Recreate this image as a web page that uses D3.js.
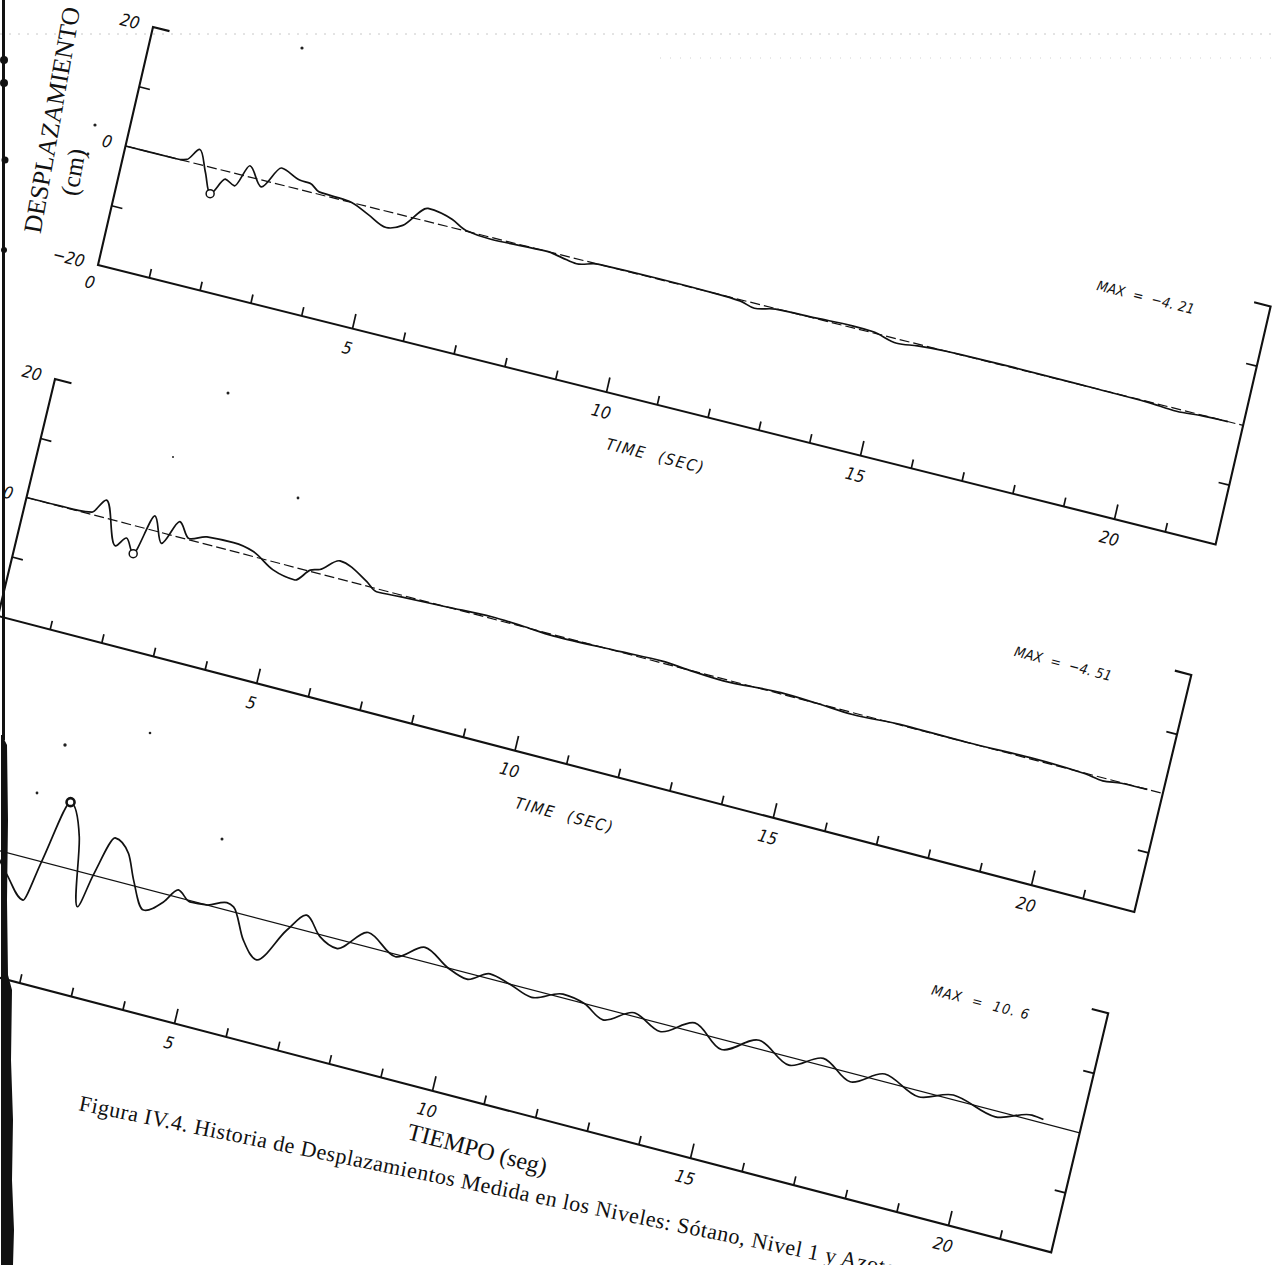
<!DOCTYPE html>
<html><head><meta charset="utf-8">
<script src="https://cdn.jsdelivr.net/npm/d3@7"></script>
<style>
html,body{margin:0;padding:0;background:#fff;}
svg{display:block;}
</style></head><body>
<svg id="chart" width="1277" height="1265"></svg>
<script>
// ---------------- data ----------------
const tickMajor = [5, 10, 15, 20];
const tickMinor = [1,2,3,4,6,7,8,9,11,12,13,14,16,17,18,19,21];
const yLabelValues = [20, 0, -20];
const yLabelTexts = ["20", "0", "\u221220"];
const maxLabels = ["MAX  =  \u22124. 21", "MAX  =  \u22124. 51", "MAX  =  10. 6"];
const axisTitles = ["TIME  (SEC)", "TIME  (SEC)", "TIEMPO  (seg)"];
const yTitle = "DESPLAZAMIENTO";
const yUnit = "(cm)";
const caption = "Figura IV.4. Historia de Desplazamientos Medida en los Niveles: S\u00f3tano, Nivel 1 y Azotea";

// Sotano
const sotanoT = [0, 1.0, 1.2, 1.4, 1.6, 1.78, 2.0, 2.2, 2.4, 2.7, 3.0, 3.4, 3.6, 3.8, 4.4, 4.8, 5.2, 5.5, 5.9, 6.4, 6.7, 7.2, 8.3, 8.6, 8.9, 9.3, 10.5, 11.6, 12.1, 12.4, 12.8, 13.6, 14.3, 14.7, 15.2, 15.6, 16.2, 17.5, 19.0, 20.1, 20.7, 21.2, 21.7];
const sotanoV = [0, 0, 0.3, 2.4, -1.0, -4.21, -1.3, -2.0, 1.8, -1.1, 2.7, 1.5, 1.4, 0.4, 0.1, -1.2, -2.6, -1.6, 2.1, 1.3, 0.1, -0.3, 0, -0.4, -0.8, 0, 0.1, 0, -0.2, -0.8, -0.1, 0.1, 0.3, 0.2, -0.7, -0.3, 0, 0.1, 0, -0.1, -0.4, -0.1, 0];
// Nivel 1
const nivel1T = [0, 1.0, 1.26, 1.47, 1.83, 2.0, 2.19, 2.42, 2.66, 2.9, 3.14, 3.46, 3.97, 4.37, 4.81, 5.25, 5.49, 5.66, 5.99, 6.57, 6.79, 7.24, 8.14, 9.0, 9.6, 10.2, 11.5, 12.3, 12.8, 13.5, 14.6, 15.3, 16.0, 17.0, 18.2, 19.5, 20.5, 20.85, 21.2, 21.7];
const nivel1V = [0, 0.1, 0.4, 2.9, -4.0, -2.3, -4.51, 2.4, -1.7, 2.5, 0.2, 1.2, 1.4, 0.8, -1.3, -2.0, 0.2, 0.7, 2.9, 0.7, -0.5, -0.3, 0, 0.3, 0.1, -0.2, 0.1, 0.3, 0, -0.3, 0.2, 0, -0.3, 0.1, 0, 0.2, -0.1, -0.5, -0.1, 0];
// Azotea
const azoteaT = [0, 0.5, 0.9, 1.29, 1.71, 1.88, 2.15, 2.46, 2.73, 2.88, 3.12, 3.43, 3.64, 3.95, 4.28, 4.50, 4.76, 5.08, 5.44, 5.58, 5.90, 6.23, 6.65, 6.95, 7.28, 7.64, 8.15, 8.75, 9.25, 9.76, 10.15, 10.55, 10.95, 11.41, 11.97, 12.4, 12.81, 13.35, 13.9, 14.5, 15.1, 15.75, 16.4, 17.0, 17.59, 18.19, 18.9, 19.53, 20.39, 21.05, 21.28];
const azoteaV = [0, 0.8, 0.2, -3.3, -6.8, 0, 10.6, 5.5, -5.6, 0, 6.8, 4.9, 0.9, -3.4, -1.3, 1.2, -0.2, 0, 1.2, 0.8, -4.0, -6.6, -0.7, 2.5, -0.3, -1.5, 2.3, -0.4, 2.3, 0, -1.0, 0.8, 0, -1.2, 0.6, 0, -1.8, 0.6, -1.3, 1.5, -1.6, 1.4, -1.3, 1.2, -1.4, 1.25, -0.95, 0.76, -0.95, 0.83, 0.6];

// ---------------- layout (geometry of the skewed scan) ----------------
const W = 1100, H = 400;
const panels = [
  {BL:[98,265],  xv:[50.8,12.7],  yv:[1.375,-5.95], T:sotanoT, V:sotanoV, dash:"10,4", titleT:11.2, titleOff:50, serif:false, circleW:1.5},
  {BL:[-2,616],  xv:[51.65,13.45], yv:[1.425,-5.925], T:nivel1T, V:nivel1V, dash:"10,4", titleT:11.2, titleOff:50, serif:false, circleW:1.5},
  {BL:[-84,956], xv:[51.6,13.47], yv:[1.425,-5.975], T:azoteaT, V:azoteaV, dash:null, titleT:11.1, titleOff:45, serif:true, circleW:2.6}
];
const INK = "#111";
const plotFont = "'DejaVu Sans Condensed','Liberation Sans Narrow','DejaVu Sans',sans-serif";
const serifFont = "'Liberation Serif','DejaVu Serif',serif";

const svg = d3.select("#chart");
svg.append("rect").attr("width",1277).attr("height",1265).attr("fill","#fff");

// faint scan artifacts at the top
svg.append("line").attr("x1",0).attr("x2",1277).attr("y1",34).attr("y2",34)
  .attr("stroke","#c8c8c8").attr("stroke-width",1).attr("stroke-dasharray","2,7");
svg.append("line").attr("x1",660).attr("x2",1277).attr("y1",58).attr("y2",58)
  .attr("stroke","#d0d0d0").attr("stroke-width",1).attr("stroke-dasharray","1,9");
// isolated specks of the scan
[[302,48,1.6],[95,125,1.6],[88,154,1.4],[228,393,1.5],[298,498,1.4],[173,457,1],[65,745,1.7],[37,793,1.4],[222,839,1.5],[150,733,1.3]]
  .forEach(d => svg.append("circle").attr("cx",d[0]).attr("cy",d[1]).attr("r",d[2]).attr("fill","#222"));

panels.forEach((p, i) => {
  const x = d3.scaleLinear().domain([0,22]).range([0,W]);
  const y = d3.scaleLinear().domain([-20,20]).range([H,0]);
  const ax = [p.xv[0]*22/W, p.xv[1]*22/W];
  const by = [-p.yv[0]*40/H, -p.yv[1]*40/H];
  const TL = [p.BL[0]+40*p.yv[0], p.BL[1]+40*p.yv[1]];
  const sx = Math.hypot(ax[0],ax[1]), sy = Math.hypot(by[0],by[1]);
  const proj = (t,v) => { const lx = x(t), ly = y(v); return [TL[0]+lx*ax[0]+ly*by[0], TL[1]+lx*ax[1]+ly*by[1]]; };
  const theta = Math.atan2(p.xv[1], p.xv[0]);
  const deg = theta*180/Math.PI;
  const u = [Math.cos(theta), Math.sin(theta)];
  const dn = [-Math.sin(theta), Math.cos(theta)];

  const g = svg.append("g")
    .attr("transform", `matrix(${ax[0]},${ax[1]},${by[0]},${by[1]},${TL[0]},${TL[1]})`);

  // zero reference line
  g.append("path").attr("d", `M${x(0)},${y(0)}H${x(22)}`)
    .attr("fill","none").attr("stroke",INK).attr("stroke-width",1.2)
    .attr("stroke-dasharray", p.dash).attr("vector-effect","non-scaling-stroke");

  // signal
  const line = d3.line().x(d=>x(d[0])).y(d=>y(d[1])).curve(d3.curveMonotoneX);
  g.append("path").datum(d3.zip(p.T,p.V)).attr("d", line)
    .attr("fill","none").attr("stroke",INK).attr("stroke-width",1.7)
    .attr("stroke-linejoin","round").attr("vector-effect","non-scaling-stroke");

  // frame (left, bottom, right axes plus corner stubs)
  const stub = 17/sx;
  g.append("path").attr("d", `M${x(0)+stub},${y(20)}H${x(0)}V${y(-20)}H${x(22)}V${y(20)}H${x(22)-stub}`)
    .attr("fill","none").attr("stroke",INK).attr("stroke-width",2.1)
    .attr("stroke-linejoin","miter").attr("vector-effect","non-scaling-stroke");

  const styleAxis = sel => {
    sel.select(".domain").remove();
    sel.selectAll("line").attr("stroke",INK).attr("stroke-width",1.7).attr("vector-effect","non-scaling-stroke");
    sel.selectAll("text").remove();
  };
  g.append("g").attr("transform",`translate(0,${H})`)
    .call(d3.axisBottom(x).tickValues(tickMinor).tickSize(-9/sy).tickSizeOuter(0)).call(styleAxis);
  g.append("g").attr("transform",`translate(0,${H})`)
    .call(d3.axisBottom(x).tickValues(tickMajor).tickSize(-15/sy).tickSizeOuter(0)).call(styleAxis);
  g.append("g").call(d3.axisLeft(y).tickValues([-10,10]).tickSize(-11/sx).tickSizeOuter(0)).call(styleAxis);
  g.append("g").attr("transform",`translate(${W},0)`)
    .call(d3.axisRight(y).tickValues([-10,10]).tickSize(-11/sx).tickSizeOuter(0)).call(styleAxis);

  // peak marker
  const k = d3.maxIndex(p.V, v => Math.abs(v));
  const cp = proj(p.T[k], p.V[k]);
  svg.append("circle").attr("cx",cp[0]).attr("cy",cp[1]).attr("r",4)
    .attr("fill","#fff").attr("stroke",INK).attr("stroke-width",p.circleW);

  const txt = svg.append("g").attr("fill",INK);
  // x tick labels (only those that fall on the page)
  [0].concat(tickMajor).forEach(t => {
    const b = proj(t,-20);
    const off = t === 0 ? [-8,17] : [dn[0]*20, dn[1]*20];
    const pos = [b[0]+off[0], b[1]+off[1]];
    if (pos[0] < 6) return;
    txt.append("text").attr("transform",`translate(${pos[0]},${pos[1]}) rotate(${deg})`)
      .attr("text-anchor","middle").attr("dominant-baseline","central")
      .attr("font-family",plotFont).attr("font-style","italic").attr("font-size",17).text(String(t));
  });
  // y tick labels
  yLabelValues.forEach((v,j) => {
    const b = proj(0,v);
    const pos = [b[0]-14*u[0], b[1]-14*u[1]];
    if (pos[0] < 6) return;
    txt.append("text").attr("transform",`translate(${pos[0]},${pos[1]}) rotate(${deg})`)
      .attr("text-anchor","end").attr("dominant-baseline","central")
      .attr("font-family",plotFont).attr("font-style","italic").attr("font-size",17).text(yLabelTexts[j]);
  });
  // MAX annotation
  const m = proj(18.68,16.5);
  txt.append("text").attr("transform",`translate(${m[0]},${m[1]}) rotate(${deg})`)
    .attr("dominant-baseline","central").attr("xml:space","preserve").style("white-space","pre")
    .attr("font-family",plotFont).attr("font-style","italic").attr("font-size",14)
    .attr("textLength",100).attr("lengthAdjust","spacing").text(maxLabels[i]);
  // axis title
  const a0 = proj(p.titleT,-20);
  const tp = [a0[0]+dn[0]*p.titleOff, a0[1]+dn[1]*p.titleOff];
  const tt = txt.append("text").attr("transform",`translate(${tp[0]},${tp[1]}) rotate(${deg})`)
    .attr("text-anchor","middle").attr("dominant-baseline","central").style("white-space","pre");
  if (p.serif) {
    tt.attr("font-family",serifFont).attr("font-size",24).text(axisTitles[i].replace("  "," "));
  } else {
    tt.attr("font-family",plotFont).attr("font-style","italic").attr("font-size",16)
      .attr("textLength",100).attr("lengthAdjust","spacing").text(axisTitles[i]);
  }
});

// y axis title
svg.append("text").attr("transform","translate(52,120) rotate(-80)")
  .attr("text-anchor","middle").attr("dominant-baseline","central")
  .attr("font-family",serifFont).attr("font-size",25.5).attr("fill",INK).text(yTitle);
svg.append("text").attr("transform","translate(73,172) rotate(-80)")
  .attr("text-anchor","middle").attr("dominant-baseline","central")
  .attr("font-family",serifFont).attr("font-size",25).attr("fill",INK).text(yUnit);

// caption
svg.append("text").attr("transform","translate(78,1110) rotate(11.5)")
  .attr("font-family",serifFont).attr("font-size",22).attr("letter-spacing",0.5)
  .attr("fill",INK).text(caption);

// scan edge on the left
svg.append("rect").attr("x",2).attr("y",0).attr("width",3).attr("height",740).attr("fill","#111");
[[4,60,4],[4,83,4],[5,160,3.5],[4,250,3]].forEach(d=>
  svg.append("circle").attr("cx",d[0]).attr("cy",d[1]).attr("r",d[2]).attr("fill","#111"));
const edge = [[2,735],[7,745],[8,820],[7,900],[8,975],[12,990],[11,1060],[13,1120],[12,1180],[14,1230],[13,1265],[1,1265],[1,735]];
svg.append("path").attr("d", d3.line()(edge)+"Z").attr("fill","#111");
</script>
</body></html>
